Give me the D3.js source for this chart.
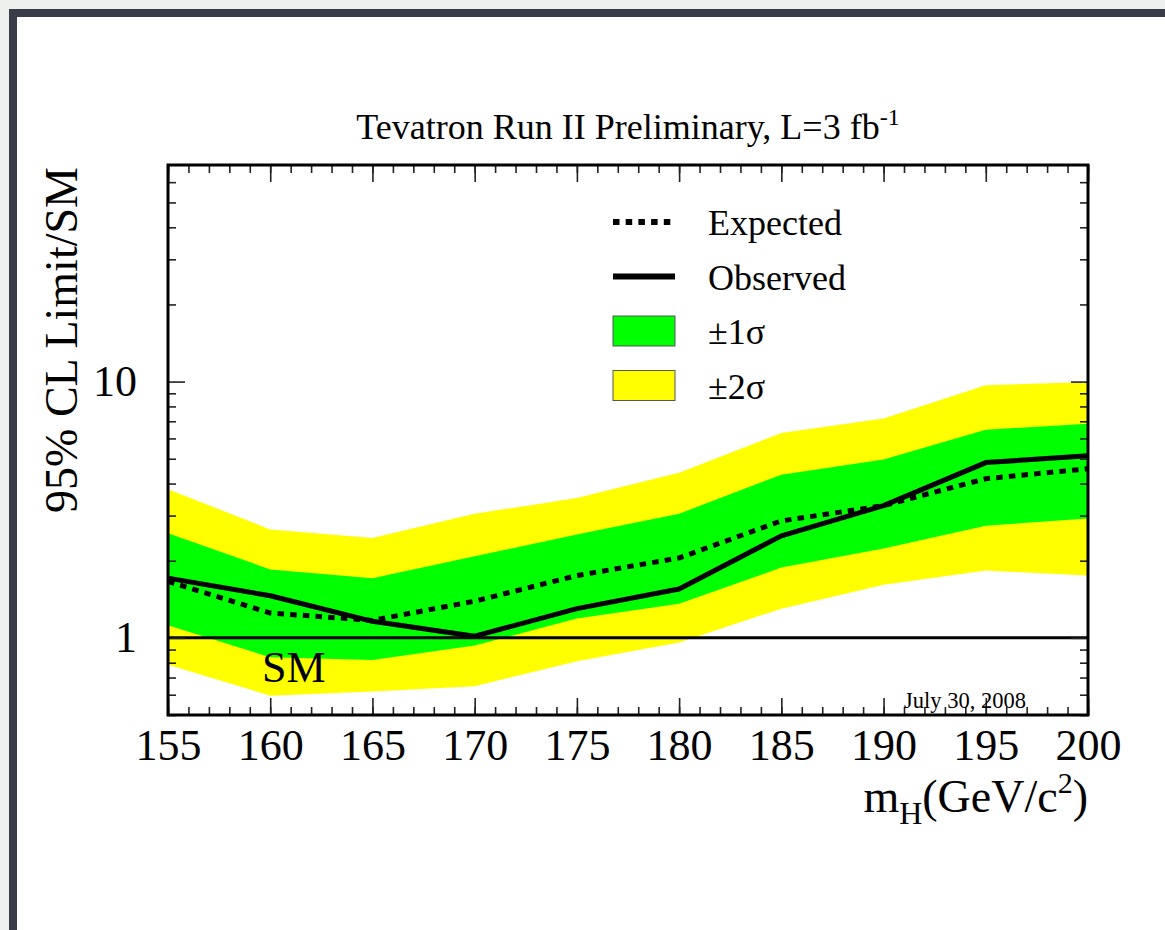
<!DOCTYPE html>
<html>
<head>
<meta charset="utf-8">
<script src="https://cdn.jsdelivr.net/npm/d3@7"></script>
<style>
  html,body{margin:0;padding:0;background:#fff;}
  svg{display:block;}
  text{font-family:"Liberation Serif","Times New Roman",serif;fill:#000;}
</style>
</head>
<body>
<svg id="chart" width="1165" height="930"></svg>
<script>
// values (ratio to SM, 95% CL)
const masses   = [155,160,165,170,175,180,185,190,195,200];
const expected = [1.66,1.25,1.17,1.39,1.75,2.05,2.86,3.28,4.18,4.57];
const observed = [1.71,1.46,1.16,1.015,1.30,1.55,2.50,3.28,4.83,5.14];
const minus2   = [0.785,0.595,0.617,0.648,0.81,0.96,1.30,1.61,1.83,1.75];
const minus1   = [1.12,0.84,0.82,0.933,1.19,1.36,1.88,2.23,2.74,2.92];
const plus1    = [2.56,1.85,1.71,2.08,2.53,3.05,4.33,4.96,6.49,6.85];
const plus2    = [3.80,2.65,2.45,3.05,3.51,4.41,6.30,7.17,9.68,9.97];

const xMajor = [155,160,165,170,175,180,185,190,195,200];
const xMinor = d3.range(155,201,1);
const yMajor = [1,10];
const yMinor = [0.5,0.6,0.7,0.8,0.9,2,3,4,5,6,7,8,9,20,30,40,50,60];
const legendItems = [
  {label:"Expected", kind:"dot"},
  {label:"Observed", kind:"line"},
  {label:"\u00b11\u03c3", kind:"box", color:"#00ff00"},
  {label:"\u00b12\u03c3", kind:"box", color:"#ffff00"}
];

const svg=d3.select("#chart");
const W=1165, H=930;

// window frame around the canvas
svg.append("rect").attr("width",W).attr("height",H).attr("fill","#eef0ee");
svg.append("rect").attr("x",9).attr("y",9).attr("width",W).attr("height",H).attr("fill","#3a3c4a");
svg.append("rect").attr("x",17).attr("y",17).attr("width",W).attr("height",H).attr("fill","#ffffff");

const L=168, R=1088, T=165, B=715;
const x=d3.scaleLinear().domain([155,200]).range([L,R]);
const y=d3.scaleLog().domain([0.5,70]).range([B,T]);

const pts=masses.map((m,i)=>({m,exp:expected[i],obs:observed[i],lo2:minus2[i],lo1:minus1[i],hi1:plus1[i],hi2:plus2[i]}));

const band=(lo,hi)=>d3.area().x(d=>x(d.m)).y0(d=>y(d[lo])).y1(d=>y(d[hi]));
svg.append("path").datum(pts).attr("d",band("lo2","hi2")).attr("fill","#ffff00");
svg.append("path").datum(pts).attr("d",band("lo1","hi1")).attr("fill","#00ff00");

// SM line
svg.append("line").attr("x1",L).attr("x2",R).attr("y1",y(1)).attr("y2",y(1))
  .attr("stroke","#000").attr("stroke-width",3);

const line=key=>d3.line().x(d=>x(d.m)).y(d=>y(d[key]));
svg.append("path").datum(pts).attr("d",line("exp")).attr("fill","none")
  .attr("stroke","#000").attr("stroke-width",5).attr("stroke-dasharray","6.5,6.2");
svg.append("path").datum(pts).attr("d",line("obs")).attr("fill","none")
  .attr("stroke","#000").attr("stroke-width",5).attr("stroke-linejoin","round");

// axes: ticks point into the frame on all four sides
function addAxis(axis, tx, ty){
  const g=svg.append("g").attr("transform",`translate(${tx},${ty})`).call(axis);
  g.select(".domain").remove();
  g.selectAll(".tick line").attr("stroke","#222").attr("stroke-width",1.6);
  return g;
}
const fmtNone=()=>"";
addAxis(d3.axisBottom(x).tickValues(xMinor).tickSize(-8).tickFormat(fmtNone),0,B);
const xb=addAxis(d3.axisBottom(x).tickValues(xMajor).tickSize(-17).tickPadding(14).tickFormat(d3.format("d")),0,B);
xb.selectAll("text").attr("font-size",44).attr("font-family","Liberation Serif, serif");
addAxis(d3.axisTop(x).tickValues(xMinor).tickSize(-8).tickFormat(fmtNone),0,T);
addAxis(d3.axisTop(x).tickValues(xMajor).tickSize(-17).tickFormat(fmtNone),0,T);

addAxis(d3.axisLeft(y).tickValues(yMinor).tickSize(-8).tickFormat(fmtNone),L,0);
const yl=addAxis(d3.axisLeft(y).tickValues(yMajor).tickSize(-17).tickPadding(31).tickFormat(d3.format("d")),L,0);
yl.selectAll("text").attr("font-size",44).attr("font-family","Liberation Serif, serif");
addAxis(d3.axisRight(y).tickValues(yMinor).tickSize(-8).tickFormat(fmtNone),R,0);
addAxis(d3.axisRight(y).tickValues(yMajor).tickSize(-17).tickFormat(fmtNone),R,0);

// frame
svg.append("rect").attr("x",L).attr("y",T).attr("width",R-L).attr("height",B-T)
  .attr("fill","none").attr("stroke","#000").attr("stroke-width",3);

// title
const title=svg.append("text").attr("x",628).attr("y",139).attr("text-anchor","middle").attr("font-size",36);
title.append("tspan").text("Tevatron Run II Preliminary, L=3 fb");
title.append("tspan").attr("font-size",24).attr("dy",-14).text("-1");

// axis titles
const xt=svg.append("text").attr("x",R).attr("y",812).attr("text-anchor","end").attr("font-size",46);
xt.append("tspan").text("m");
xt.append("tspan").attr("font-size",32).attr("dy",12).text("H");
xt.append("tspan").attr("dy",-12).text("(GeV/c");
xt.append("tspan").attr("font-size",30).attr("dy",-19).text("2");
xt.append("tspan").attr("dy",19).text(")");

svg.append("text").attr("transform","translate(77,340) rotate(-90)")
  .attr("text-anchor","middle").attr("font-size",46).text("95% CL Limit/SM");

// SM label and date
svg.append("text").attr("x",262).attr("y",682).attr("font-size",44).text("SM");
svg.append("text").attr("x",904).attr("y",708).attr("font-size",22.5).text("July 30, 2008");

// legend
const lg=svg.append("g");
legendItems.forEach((it,i)=>{
  const cy=222+i*54.5;
  if(it.kind==="dot"){
    lg.append("line").attr("x1",613).attr("x2",675).attr("y1",cy).attr("y2",cy)
      .attr("stroke","#000").attr("stroke-width",6).attr("stroke-dasharray","6.5,6.2");
  }else if(it.kind==="line"){
    lg.append("line").attr("x1",613).attr("x2",675).attr("y1",cy).attr("y2",cy)
      .attr("stroke","#000").attr("stroke-width",6);
  }else{
    lg.append("rect").attr("x",613).attr("y",cy-15).attr("width",62).attr("height",30)
      .attr("fill",it.color).attr("stroke","#555").attr("stroke-width",1);
  }
  lg.append("text").attr("x",708).attr("y",cy+13).attr("font-size",36).text(it.label);
});
</script>
</body>
</html>
